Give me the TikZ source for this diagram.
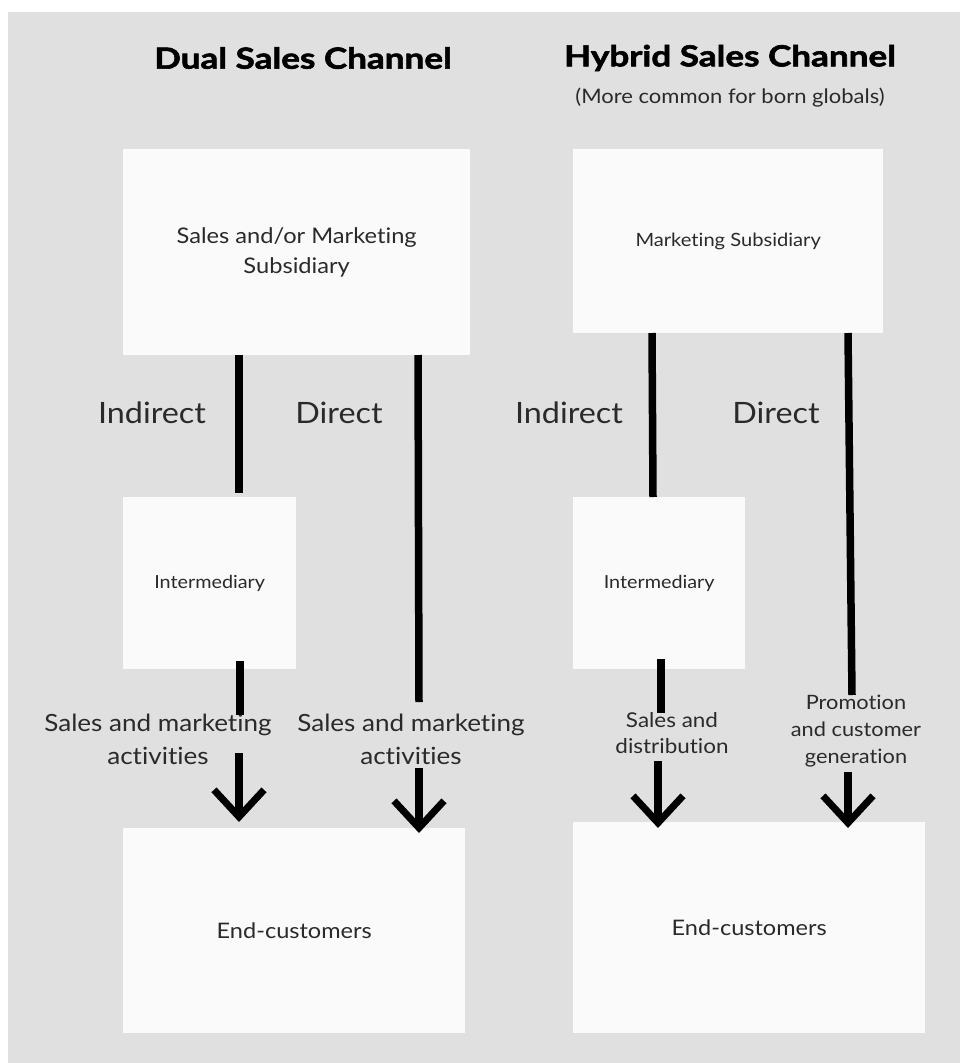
\documentclass[tikz,border=0pt]{standalone}
\usepackage{fontspec}
\setmainfont{Lato}[FakeStretch=1.1,Ligatures=NoCommon]
\newfontfamily\titlefont{Lato}[Ligatures=NoCommon,BoldFeatures={FakeStretch=1.21,FakeBold=2}]
\usetikzlibrary{arrows.meta}
\definecolor{bggray}{HTML}{E0E0E0}
\definecolor{boxfill}{HTML}{FAFAFA}
\definecolor{txt}{HTML}{2A2A2A}
\begin{document}
\begin{tikzpicture}[x=1pt,y=-1pt,
  box/.style={fill=boxfill, draw=none, inner sep=0pt, anchor=north west, align=center, text=txt},
  lbl/.style={inner sep=0pt, align=center, text=txt},
  conn/.style={line width=7.5pt, draw=black},
  arr/.style={conn, -{Straight Barb[length=27pt, width=50pt, line width=7pt]}},
  title/.style={inner sep=0pt, font=\titlefont\bfseries\fontsize{29}{34}\selectfont}]
\useasboundingbox (0,0) rectangle (960,1063);
\fill[bggray] (8,12) rectangle (960,1063);
% titles
\node[title] (t1) at (303,58) {Dual Sales Channel};
\node[title] (t2) at (730,58) {Hybrid Sales Channel};
\node[lbl, font=\fontsize{20}{24}\selectfont] (sub) at (730,98) {(More common for born globals)};
% boxes
\node[box, minimum width=347pt, minimum height=206pt, font=\fontsize{21.5}{30}\selectfont] (A) at (123,149) {Sales and/or Marketing\\Subsidiary};
\node[box, minimum width=310pt, minimum height=184pt, font=\fontsize{18.3}{22}\selectfont] (B) at (573,149) {Marketing Subsidiary};
\node[box, minimum width=173pt, minimum height=172pt, font=\fontsize{18}{22}\selectfont] (I1) at (123,497) {Intermediary};
\node[box, minimum width=172pt, minimum height=172pt, font=\fontsize{18}{22}\selectfont] (I2) at (573,497) {Intermediary};
\node[box, minimum width=342pt, minimum height=205pt, font=\fontsize{21.4}{25}\selectfont] (E1) at (123,828) {End-customers};
\node[box, minimum width=352pt, minimum height=211pt, font=\fontsize{21.4}{25}\selectfont] (E2) at (573,822) {End-customers};
% channel labels
\node[lbl, font=\fontsize{29.4}{34}\selectfont] (ind1) at (152,413) {Indirect};
\node[lbl, font=\fontsize{29.4}{34}\selectfont] (dir1) at (339,413) {Direct};
\node[lbl, font=\fontsize{29.4}{34}\selectfont] (ind2) at (569,413) {Indirect};
\node[lbl, font=\fontsize{29.4}{34}\selectfont] (dir2) at (776,413) {Direct};
% activity labels
\node[lbl, font=\fontsize{23.7}{33}\selectfont] (act1) at (158,739) {Sales and marketing\\activities};
\node[lbl, font=\fontsize{23.7}{33}\selectfont] (act2) at (411,739) {Sales and marketing\\activities};
\node[lbl, font=\fontsize{20.4}{26}\selectfont] (act3) at (672,733) {Sales and\\distribution};
\node[lbl, font=\fontsize{19.8}{27}\selectfont] (act4) at (856,731) {Promotion\\and customer\\generation};
% connector end points
\coordinate (a1s) at (239,355);  \coordinate (a1e) at (239,493);
\coordinate (a2s) at (240,661);  \coordinate (a2e) at (240,715);
\coordinate (a3s) at (239,753);  \coordinate (a3e) at (239,822);
\coordinate (b1s) at (418,355);  \coordinate (b1e) at (419,702);
\coordinate (b2s) at (419,768);  \coordinate (b2e) at (419,833);
\coordinate (c1s) at (652,333);  \coordinate (c1e) at (653,497);
\coordinate (c2s) at (661,659);  \coordinate (c2e) at (661,713);
\coordinate (c3s) at (658,761);  \coordinate (c3e) at (658,828);
\coordinate (d1s) at (848,333);  \coordinate (d1e) at (852,695);
\coordinate (d2s) at (848,772);  \coordinate (d2e) at (848,828);
% connectors
\draw[conn] (a1s) -- (a1e);
\draw[conn] (a2s) -- (a2e);
\draw[arr] (a3s) -- (a3e);
\draw[conn] (b1s) -- (b1e);
\draw[arr] (b2s) -- (b2e);
\draw[conn] (c1s) -- (c1e);
\draw[conn] (c2s) -- (c2e);
\draw[arr] (c3s) -- (c3e);
\draw[conn] (d1s) -- (d1e);
\draw[arr] (d2s) -- (d2e);
\end{tikzpicture}
\end{document}
